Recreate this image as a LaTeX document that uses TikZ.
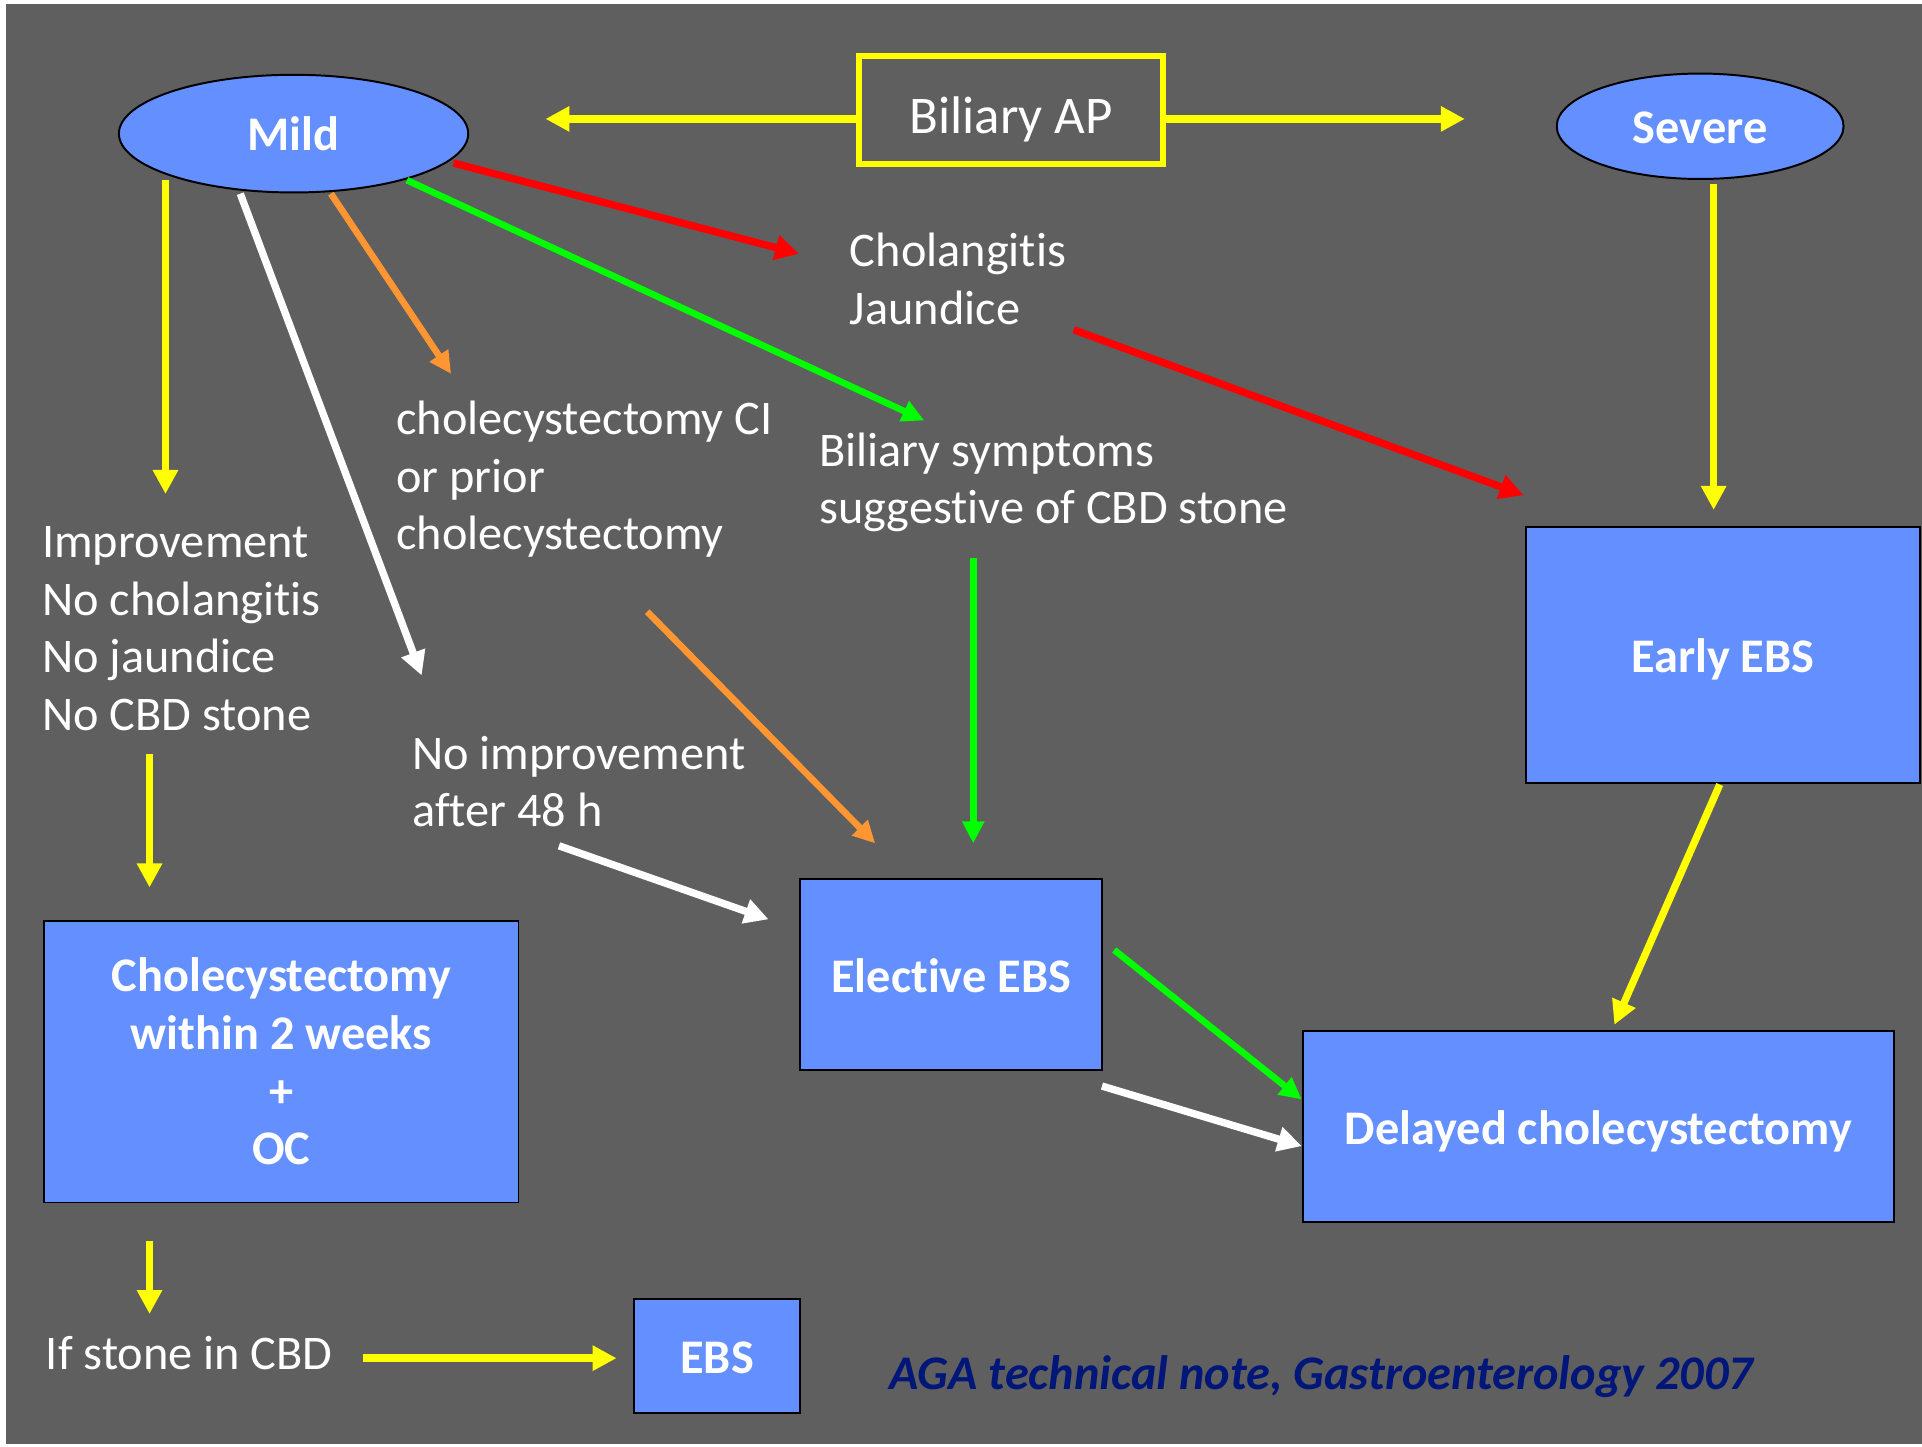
\documentclass[tikz,border=0pt]{standalone}
\usepackage{fontspec}
\setmainfont{Carlito}[Ligatures={NoCommon}]
\usetikzlibrary{arrows.meta,shapes.geometric}
\definecolor{bg}{RGB}{95,95,95}
\definecolor{boxblue}{RGB}{99,143,255}
\definecolor{navy}{RGB}{0,22,120}
\definecolor{ylw}{RGB}{255,255,0}
\definecolor{grn}{RGB}{0,255,0}
\definecolor{org}{RGB}{255,150,50}
\definecolor{rd}{RGB}{255,0,0}
\newcommand{\fs}{\fontsize{19.7}{23.5}\selectfont}
\newcommand{\vc}[2]{\raisebox{0pt}[#1][0pt]{#2}}
\begin{document}
\begin{tikzpicture}[x=0.5pt,y=-0.5pt,
  box/.style={draw=black,line width=0.8pt,fill=boxblue,text=white,font=\fs\bfseries,align=center,inner sep=0pt},
  oval/.style={ellipse,draw=black,line width=0.8pt,fill=boxblue,text=white,font=\fs\bfseries,inner sep=0pt},
  lbl/.style={text=white,font=\fs,align=left,inner sep=0pt,anchor=west},
  arr/.style={line width=3pt,-{Triangle[length=9.8pt,width=9.8pt]}},
  ya/.style={arr,draw=ylw},
  ra/.style={arr,draw=rd},
  ga/.style={arr,draw=grn,line width=2.7pt,-{Triangle[length=9pt,width=8.6pt]}},
  oa/.style={arr,draw=org,line width=2.7pt,-{Triangle[length=9pt,width=8.6pt]}},
  wa/.style={arr,draw=white},
]
\useasboundingbox (0,0) rectangle (1568,1180);
\fill[white] (0,0) rectangle (1568,1180);
\fill[bg] (5,3) rectangle (1568,1178);

% nodes
\node[draw=ylw,line width=2.5pt,minimum width=124pt,minimum height=44pt,text=white,font=\fontsize{21.6}{26}\selectfont,inner sep=0pt] (ap) at (825,90) {\vc{18.5pt}{Biliary AP}};
\node[oval,minimum width=142.5pt,minimum height=48pt] (mild) at (239.5,109) {\vc{13.7pt}{Mild}};
\node[oval,minimum width=117pt,minimum height=43pt] (severe) at (1387,103) {\vc{13.7pt}{Severe}};
\node[box,minimum width=160.5pt,minimum height=104.5pt] (early) at (1405.5,534.5) {\vc{14.5pt}{Early EBS}};
\node[box,minimum width=123pt,minimum height=78pt] (elective) at (776,795) {\vc{14.6pt}{Elective EBS}};
\node[box,minimum width=241pt,minimum height=78pt] (delayed) at (1304,919) {\vc{14.3pt}{Delayed cholecystectomy}};
\node[box,minimum width=193.5pt,minimum height=115pt] (chole) at (229.5,866) {Cholecystectomy\\within 2 weeks\\+\\OC};
\node[box,minimum width=68pt,minimum height=46.5pt] (ebs) at (585,1106.5) {\vc{14.2pt}{EBS}};

\node[lbl] (chol) at (693,227.5) {Cholangitis\\Jaundice};
\node[lbl] (ci) at (323,391) {cholecystectomy CI\\or prior\\cholecystectomy};
\node[lbl] (sympt) at (668,393.5) {Biliary symptoms\\suggestive of CBD stone};
\node[lbl] (impr) at (34,513) {Improvement\\No cholangitis\\No jaundice\\No CBD stone};
\node[lbl] (noimpr) at (336,637.5) {No improvement\\after 48 h};
\node[lbl] (stone) at (37,1103.5) {If stone in CBD};
\node[text=navy,font=\fs\bfseries\itshape,inner sep=0pt] (cite) at (1078,1123) {AGA technical note, Gastroenterology 2007};

% connector ends
\coordinate (apL) at (445,97);
\coordinate (apR) at (1195,97);
\coordinate (m1s) at (135,147);   \coordinate (m1e) at (135,403);
\coordinate (r1s) at (370,133);   \coordinate (r1e) at (652,207);
\coordinate (r2s) at (876,269);   \coordinate (r2e) at (1243,404);
\coordinate (o1s) at (270,158);   \coordinate (o1e) at (368,305);
\coordinate (g1s) at (332,147);   \coordinate (g1e) at (754,343);
\coordinate (w1s) at (196,158);   \coordinate (w1e) at (344,551);
\coordinate (y2s) at (122,615);   \coordinate (y2e) at (122,724);
\coordinate (o2s) at (528,499);   \coordinate (o2e) at (714,688);
\coordinate (g2s) at (794,455);   \coordinate (g2e) at (794,688);
\coordinate (w2s) at (456,690);   \coordinate (w2e) at (627,750);
\coordinate (svs) at (1398,150);  \coordinate (sve) at (1398,416);
\coordinate (eds) at (1403,640);  \coordinate (ede) at (1317,836);
\coordinate (g3s) at (909,775);   \coordinate (g3e) at (1062,897);
\coordinate (w3s) at (899,886);   \coordinate (w3e) at (1062,935);
\coordinate (c1s) at (122,1012);  \coordinate (c1e) at (122,1072);
\coordinate (s1s) at (296,1108);  \coordinate (s1e) at (503,1108);

% connectors
\draw[ya] (ap.west |- apL) -- (apL);
\draw[ya] (ap.east |- apR) -- (apR);
\draw[ya] (m1s) -- (m1e);
\draw[ra] (r1s) -- (r1e);
\draw[ra] (r2s) -- (r2e);
\draw[oa] (o1s) -- (o1e);
\draw[ga] (g1s) -- (g1e);
\draw[wa] (w1s) -- (w1e);
\draw[ya] (y2s) -- (y2e);
\draw[oa] (o2s) -- (o2e);
\draw[ga] (g2s) -- (g2e);
\draw[wa] (w2s) -- (w2e);
\draw[ya] (svs) -- (sve);
\draw[ya] (eds) -- (ede);
\draw[ga] (g3s) -- (g3e);
\draw[wa] (w3s) -- (w3e);
\draw[ya] (c1s) -- (c1e);
\draw[ya] (s1s) -- (s1e);
\end{tikzpicture}
\end{document}
